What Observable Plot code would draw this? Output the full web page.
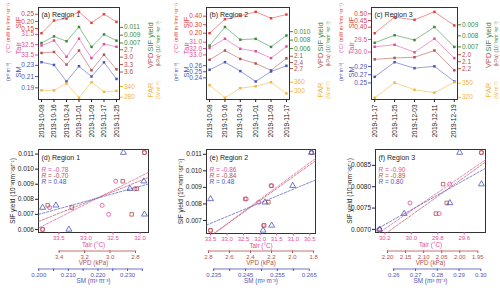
<!DOCTYPE html>
<html><head><meta charset="utf-8">
<script src="https://cdn.jsdelivr.net/npm/d3@7"></script>
<script src="https://cdn.jsdelivr.net/npm/@observablehq/plot@0.6"></script>
<style>
body{margin:0;background:#fff}
#chart{position:relative;width:500px;height:291px;overflow:hidden;background:#fff}
#chart svg{position:absolute;left:0;top:0;background:transparent !important;max-width:none}
</style></head><body><div id="chart"></div>
<script>
// ---------------- data ----------------
const dates1 = ["2019-10-08","2019-10-16","2019-10-24","2019-11-01","2019-11-09","2019-11-17","2019-11-25"];
const sif1   = [0.118,0.206,0.220,0.267,0.190,0.250,0.197];
const yield1 = [0.0070,0.0087,0.00745,0.0111,0.0060,0.0092,0.0076];
const tair1  = [32.58,32.10,33.67,31.92,33.80,32.45,32.70];
const vpd1   = [2.83,2.79,3.30,2.73,3.53,2.90,3.49];
const sm1    = [0.2357,0.2308,0.2013,0.2286,0.2102,0.2355,0.2058];
const par1   = [319,318,357,277,364,310,316];

const dates2 = ["2019-10-08","2019-10-16","2019-10-24","2019-11-01","2019-11-09","2019-11-17"];
const sif2   = [0.200,0.365,0.405,0.452,0.376,0.420];
const yield2 = [0.0067,0.0111,0.0081,0.0083,0.0064,0.0091];
const tair2  = [31.90,30.45,32.04,32.42,33.50,31.67];
const vpd2   = [2.27,1.82,2.23,2.45,2.78,2.20];
const sm2    = [0.2532,0.2657,0.2511,0.2340,0.2505,0.2598];
const par2   = [340,256,320,333,360,285];

const dates3 = ["2019-11-17","2019-11-25","2019-12-03","2019-12-11","2019-12-19"];
const sif3   = [0.355,0.475,0.455,0.515,0.413];
const yield3 = [0.00737,0.00806,0.00762,0.0088,0.0070];
const tair3  = [29.79,29.71,30.01,29.47,30.24];
const vpd3   = [2.066,2.046,2.036,1.940,2.222];
const sm3    = [0.2648,0.3003,0.2858,0.2903,0.2535];
const par3   = [319,351,336,330,352];

// tick labels (top panels)
const ticksTop1 = {sif:[0.15,0.20,0.25], yield:[0.007,0.009,0.011], tair:[31.5,32.5,33.5], vpd:[2.7,3.0,3.3,3.6], sm:[0.19,0.21,0.23], par:[280,340]};
const ticksTop2 = {sif:[0.20,0.30,0.40], yield:[0.006,0.008,0.010], tair:[31.0,32.0,33.0], vpd:[2.1,2.4,2.7], sm:[0.24,0.25,0.26], par:[300,360]};
const ticksTop3 = {sif:[0.40,0.45,0.50], yield:[0.007,0.008,0.009], tair:[29.5,30.0], vpd:[2.0,2.1,2.2], sm:[0.25,0.27,0.29], par:[320,350]};

// tick labels (scatter panels)
const ticksBot1 = {yield:[0.006,0.007,0.008,0.009,0.010,0.011], tair:[33.5,33.0,32.5,32.0], vpd:[3.4,3.2,3.0,2.8],
  sm:[0.200,0.205,0.210,0.215,0.220,0.225,0.230,0.235], smLabels:["0.200","0.210","0.220","0.230"]};
const ticksBot2 = {yield:[0.007,0.008,0.009,0.010,0.011], tair:[33.5,33.0,32.5,32.0,31.5,31.0,30.5], vpd:[2.8,2.6,2.4,2.2,2.0,1.8],
  sm:[0.235,0.240,0.245,0.250,0.255,0.260,0.265], smLabels:["0.235","0.245","0.255","0.265"]};
const ticksBot3 = {yield:[0.0070,0.0075,0.0080,0.0085], tair:[30.2,30.0,29.8,29.6], vpd:[2.20,2.15,2.10,2.05,2.00,1.95],
  sm:[0.26,0.27,0.28,0.29,0.30], smLabels:["0.26","0.27","0.28","0.29","0.30"]};

const rLabels1 = ["-0.78","-0.70","0.48"];
const rLabels2 = ["-0.86","-0.84","0.48"];
const rLabels3 = ["-0.90","-0.89","0.80"];

// ---------------- style ----------------
const COL = {sif:"#e5403b", yield:"#3b8a3b", tair:"#e34d9b", vpd:"#b2514d", sm:"#4c55bc", par:"#f3b53c"};
const FONT = "'Liberation Sans', Arial, Helvetica, sans-serif";
const INK = "#222";
const parse = d3.utcParse("%Y-%m-%d");
const root = document.getElementById("chart");

function add(opts){
  const svg = Plot.plot({width:500, height:291, style:{background:"transparent", fontFamily:FONT}, ...opts});
  root.appendChild(svg);
}
function margins(f){ return {marginLeft:f[0], marginRight:500-f[1], marginTop:f[2], marginBottom:291-f[3]}; }
function pad(v, k=0.04){ const [a,b]=d3.extent(v); const s=(b-a)*k; return [a-s,b+s]; }

const SERIES = [
  {key:"sif",   side:"left",  band:[32.7,11.3], name:"SIF",       unit:"(mW m\u207B\u00B2nm\u207B\u00B9sr\u207B\u00B9)", fmt:".2f", us:4.8},
  {key:"yield", side:"right", band:[46.4,26.5], name:"SIF yield", unit:"(10\u207B\u00B3nm\u207B\u00B9sr\u207B\u00B9)", fmt:".3f", us:5},
  {key:"tair",  side:"left",  band:[38.2,57.6], name:"Tair",      unit:"(\u00B0C)", fmt:".1f", us:5},
  {key:"vpd",   side:"right", band:[50.0,69.8], name:"VPD",       unit:"(kPa)", fmt:".1f", us:5},
  {key:"sm",    side:"left",  band:[81.0,61.7], name:"SM",        unit:"(m\u00B3 m\u207B\u00B3)", fmt:".2f", us:5},
  {key:"par",   side:"right", band:[97.3,81.7], name:"PAR",       unit:"(W m\u207B\u00B2)", fmt:"d", us:5}
];

function topPanel(frame, title, dates, vals, ticks){
  const ds = dates.map(parse);
  const xdom = pad(ds.map(d=>+d)).map(t=>new Date(t));
  const m = margins(frame);
  const xOpt = {type:"utc", domain:xdom, axis:null};
  add({...m, x:xOpt, y:{domain:[0,1], axis:null}, marks:[
    Plot.frame({stroke:"#333", strokeWidth:1}),
    Plot.axisX({ticks:ds, tickFormat:d3.utcFormat("%Y-%m-%d"), tickRotate:-90, tickSize:3, tickPadding:2, fontSize:6.5, label:null, color:INK}),
    Plot.text([title], {frameAnchor:"top-left", dx:3, dy:5, fontSize:7, fill:INK, textAnchor:"start"})
  ]});
  for (const s of SERIES){
    const v = vals[s.key];
    const data = ds.map((d,i)=>({d, v:v[i]}));
    const dom = d3.extent(v);
    const mid = (dom[0]+dom[1])/2;
    const left = s.side === "left";
    add({...m, x:xOpt, y:{domain:dom, range:s.band, axis:null}, marks:[
      Plot.line(data, {x:"d", y:"v", stroke:COL[s.key], strokeWidth:0.8, strokeOpacity:0.7}),
      Plot.dot(data, {x:"d", y:"v", symbol:"square", r:1.4, fill:COL[s.key]}),
      Plot.axisY({anchor:s.side, ticks:ticks[s.key], tickFormat:d3.format(s.fmt), tickSize:3, tickPadding:1.5, fontSize:6.5, label:null, color:COL[s.key]}),
      Plot.text([mid], {y:d=>d, frameAnchor:s.side, dx:left?-20:31, rotate:-90, textAnchor:"middle", lineAnchor:"middle", text:()=>s.name, fontSize:7.5, fill:COL[s.key]}),
      Plot.text([mid], {y:d=>d, frameAnchor:s.side, dx:left?-30:39, rotate:-90, textAnchor:"middle", lineAnchor:"middle", text:()=>s.unit, fontSize:s.us, fill:COL[s.key]})
    ]});
  }
}

function regLine(xs, ys, xdom, ydom){
  const mx=d3.mean(xs), my=d3.mean(ys);
  let sxy=0, sxx=0;
  xs.forEach((x,i)=>{sxy+=(x-mx)*(ys[i]-my); sxx+=(x-mx)*(x-mx);});
  const b=sxy/sxx, a=my-b*mx;
  const lo=Math.min(...ydom), hi=Math.max(...ydom);
  return [xdom[0],xdom[1]].map(x=>{
    let y=a+b*x;
    if (y<lo){ y=lo; x=(y-a)/b; } else if (y>hi){ y=hi; x=(y-a)/b; }
    return {x,y};
  });
}

function botPanel(frame, title, vars, ticks, rl){
  const m = margins(frame);
  const ydom = pad(vars.yield);
  const rCols = [COL.tair, COL.vpd, COL.sm];
  const rMarks = [];
  rl.forEach((lab,i)=>{
    rMarks.push(Plot.text(["R"], {frameAnchor:"top-left", dx:3, dy:17.5+6*i, fontStyle:"italic", fontSize:6.5, textAnchor:"start", fill:rCols[i]}));
    rMarks.push(Plot.text(["= "+lab], {frameAnchor:"top-left", dx:9.5, dy:17.5+6*i, fontSize:6.5, textAnchor:"start", fill:rCols[i]}));
  });
  add({...m, x:{domain:[0,1], axis:null}, y:{domain:ydom, axis:null}, marks:[
    Plot.frame({stroke:"#333", strokeWidth:1}),
    Plot.axisY({anchor:"left", ticks:ticks.yield, tickFormat:d3.format(ticks.yield.length===4?".4f":".3f"), tickSize:3, tickPadding:1.5, fontSize:6.5, label:null, color:INK}),
    Plot.text([title], {frameAnchor:"top-left", dx:3, dy:6, fontSize:7, fill:INK, textAnchor:"start"}),
    Plot.text(["SIF yield (10\u207B\u00B3nm\u207B\u00B9sr\u207B\u00B9)"], {frameAnchor:"left", dx:-26, rotate:-90, textAnchor:"middle", lineAnchor:"middle", fontSize:6.5, fill:INK}),
    ...rMarks
  ]});
  const specs = [
    {key:"tair", rev:true,  sym:"circle",   r:2.0, label:"Tair (\u00B0C)", axisY:frame[3]},
    {key:"vpd",  rev:true,  sym:"square",   r:2.0, label:"VPD (kPa)", axisY:250.5},
    {key:"sm",   rev:false, sym:"triangle", r:2.2, label:"SM (m\u00B3 m\u207B\u00B3)", axisY:268.5}
  ];
  for (const s of specs){
    const xs = vars[s.key];
    const xdom = pad(xs);
    const data = xs.map((x,i)=>({x, y:vars.yield[i]}));
    const line = regLine(xs, vars.yield, xdom, ydom);
    add({...m, x:{domain:xdom, reverse:s.rev, axis:null}, y:{domain:ydom, axis:null}, marks:[
      Plot.line(line, {x:"x", y:"y", stroke:COL[s.key], strokeWidth:0.8, strokeDasharray:"2.5,1.5", strokeOpacity:0.85}),
      Plot.dot(data, {x:"x", y:"y", symbol:s.sym, r:s.r, stroke:COL[s.key], strokeWidth:0.8, fill:"none"})
    ]});
    const tk = ticks[s.key];
    let fmt;
    if (s.key==="sm") fmt = d => ticks.smLabels.find(l=>Math.abs(+l-d)<1e-9) || "";
    else if (s.key==="vpd") fmt = d3.format(Math.abs(tk[0]-tk[1])<0.1-1e-9 ? ".2f" : ".1f");
    else fmt = d3.format(".1f");
    add({marginLeft:frame[0], marginRight:500-frame[1], marginTop:frame[2], marginBottom:291-s.axisY,
      x:{domain:xdom, reverse:s.rev, axis:null}, y:{domain:[0,1], axis:null}, marks:[
      s.key==="tair" ? null : Plot.ruleY([0], {x1:d3.min(tk), x2:d3.max(tk), stroke:COL[s.key], strokeWidth:0.8}),
      Plot.axisX({anchor:"bottom", ticks:tk, tickFormat:fmt, tickSize:2.5, tickPadding:1, fontSize:6, label:null, color:COL[s.key]}),
      Plot.text([s.label], {frameAnchor:"bottom", dy:14.2, fontSize:6.3, fill:COL[s.key]})
    ]});
  }
}

topPanel([38,119,7,99], "(a) Region 1", dates1, {sif:sif1, yield:yield1, tair:tair1, vpd:vpd1, sm:sm1, par:par1}, ticksTop1);
topPanel([206,289,7,99], "(b) Region 2", dates2, {sif:sif2, yield:yield2, tair:tair2, vpd:vpd2, sm:sm2, par:par2}, ticksTop2);
topPanel([371,457,7,99], "(c) Region 3", dates3, {sif:sif3, yield:yield3, tair:tair3, vpd:vpd3, sm:sm3, par:par3}, ticksTop3);

botPanel([38,148,149,232], "(d) Region 1", {tair:tair1, vpd:vpd1, sm:sm1, yield:yield1}, ticksBot1, rLabels1);
botPanel([206,315,149,233], "(e) Region 2", {tair:tair2, vpd:vpd2, sm:sm2, yield:yield2}, ticksBot2, rLabels2);
botPanel([375,485,149,232], "(f) Region 3", {tair:tair3, vpd:vpd3, sm:sm3, yield:yield3}, ticksBot3, rLabels3);
</script></body></html>
